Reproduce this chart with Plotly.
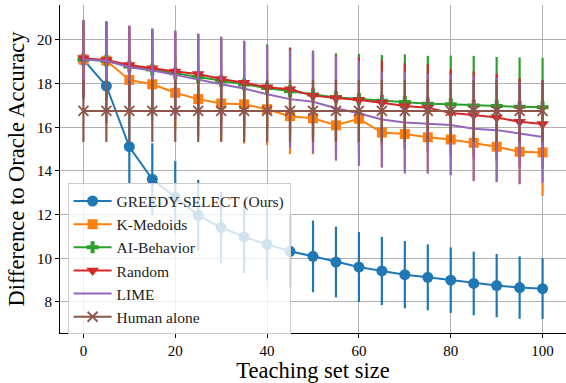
import plotly.graph_objects as go

teach_size = [0, 5, 10, 15, 20, 25, 30, 35, 40, 45, 50, 55, 60, 65, 70, 75, 80, 85, 90, 95, 100]

greedy = [19.1, 17.89, 15.11, 13.62, 12.8, 11.97, 11.41, 10.98, 10.64, 10.32, 10.09, 9.83, 9.6, 9.42, 9.25, 9.13, 9.0, 8.85, 8.75, 8.66, 8.61]
greedy_err = [1.7, 1.7, 1.66, 1.65, 1.65, 1.62, 1.63, 1.65, 1.65, 1.65, 1.64, 1.62, 1.6, 1.56, 1.54, 1.51, 1.5, 1.46, 1.45, 1.43, 1.39]

kmedoids = [19.1, 19.05, 18.17, 17.97, 17.58, 17.29, 17.09, 17.05, 16.83, 16.51, 16.41, 16.09, 16.39, 15.76, 15.69, 15.54, 15.44, 15.29, 15.11, 14.88, 14.85]
kmedoids_err = [1.6, 1.6, 1.65, 1.65, 1.7, 1.7, 1.72, 1.8, 1.65, 1.74, 1.65, 1.55, 1.7, 1.6, 1.7, 1.6, 1.6, 1.7, 1.6, 1.45, 2.0]

ai_behavior = [19.1, 19.05, 18.78, 18.65, 18.47, 18.3, 18.12, 17.96, 17.8, 17.65, 17.5, 17.37, 17.29, 17.22, 17.16, 17.08, 17.06, 17.0, 16.97, 16.94, 16.92]
ai_behavior_err = [1.8, 1.8, 1.85, 1.85, 1.9, 1.9, 1.95, 1.95, 2.0, 2.0, 2.0, 2.02, 2.07, 2.09, 2.18, 2.19, 2.22, 2.27, 2.25, 2.26, 2.26]

random_sel = [19.16, 19.08, 18.85, 18.7, 18.55, 18.44, 18.21, 18.04, 17.83, 17.74, 17.45, 17.34, 17.25, 17.12, 16.97, 16.9, 16.65, 16.56, 16.45, 16.25, 16.15]
random_err = [1.75, 1.75, 1.8, 1.8, 1.85, 1.85, 1.9, 1.9, 1.9, 1.9, 1.9, 1.95, 1.95, 1.95, 1.95, 2.0, 2.0, 2.0, 2.0, 2.0, 2.0]

lime = [19.1, 19.05, 18.75, 18.6, 18.4, 18.17, 17.97, 17.78, 17.51, 17.29, 17.17, 16.87, 16.64, 16.36, 16.22, 16.16, 16.1, 15.93, 15.87, 15.72, 15.56]
lime_err = [1.82, 1.8, 1.9, 1.93, 2.03, 2.1, 2.18, 2.19, 2.2, 2.25, 2.35, 2.4, 2.4, 2.2, 2.34, 2.28, 2.3, 2.4, 2.38, 2.33, 2.1]

human = [16.75] * 21
human_err = [1.42] * 21

series = [
    ("GREEDY-SELECT (Ours)", greedy, greedy_err, "#1f77b4", "circle", 11),
    ("K-Medoids", kmedoids, kmedoids_err, "#ff7f0e", "square", 10),
    ("AI-Behavior", ai_behavior, ai_behavior_err, "#2ca02c", "cross", 10),
    ("Random", random_sel, random_err, "#d62728", "triangle-down", 11),
    ("LIME", lime, lime_err, "#9467bd", None, 0),
    ("Human alone", human, human_err, "#8c564b", "x-thin-open", 10),
]

fig = go.Figure()
for name, vals, errs, color, symbol, size in series:
    kw = dict(
        x=teach_size, y=vals, name=name,
        line=dict(color=color, width=2),
        error_y=dict(type="data", array=errs, visible=True, color=color, thickness=2.2, width=0),
    )
    if symbol is None:
        kw["mode"] = "lines"
    else:
        kw["mode"] = "lines+markers"
        kw["marker"] = dict(symbol=symbol, size=size, color=color,
                            line=dict(color=color, width=1.8 if "thin" in symbol else 0))
    fig.add_trace(go.Scatter(**kw))

serif = "Liberation Serif"
fig.update_layout(
    width=566, height=383,
    margin=dict(l=60, r=0, t=5, b=50),
    paper_bgcolor="white", plot_bgcolor="white",
    font=dict(family=serif, color="black"),
    showlegend=True,
    legend=dict(
        x=0.015, y=0.456, xanchor="left", yanchor="top",
        bgcolor="rgba(255,255,255,0.8)", bordercolor="#cccccc", borderwidth=1,
        font=dict(family=serif, size=15.5, color="#222222"),
        itemwidth=38,
    ),
)
fig.update_xaxes(
    range=[-5.1, 105.1], tickvals=[0, 20, 40, 60, 80, 100],
    showgrid=True, gridcolor="#b0b0b0", gridwidth=1, zeroline=False,
    showline=True, linecolor="black", linewidth=1.2,
    ticks="outside", ticklen=4, tickcolor="black",
    tickfont=dict(family=serif, size=15),
    automargin=False,
    title=dict(text="Teaching set size", font=dict(family=serif, size=22.5), standoff=2),
)
fig.update_yaxes(
    range=[6.58, 21.6], tickvals=[8, 10, 12, 14, 16, 18, 20],
    showgrid=True, gridcolor="#b0b0b0", gridwidth=1, zeroline=False,
    showline=True, linecolor="black", linewidth=1.2,
    ticks="outside", ticklen=4, tickcolor="black",
    tickfont=dict(family=serif, size=15),
    automargin=False,
    title=dict(text="Difference to Oracle Accuracy", font=dict(family=serif, size=22.5), standoff=6),
)

fig.write_html("out.html", config={"displayModeBar": False},
               post_script="document.body.style.margin='0';document.body.style.overflow='hidden';")
